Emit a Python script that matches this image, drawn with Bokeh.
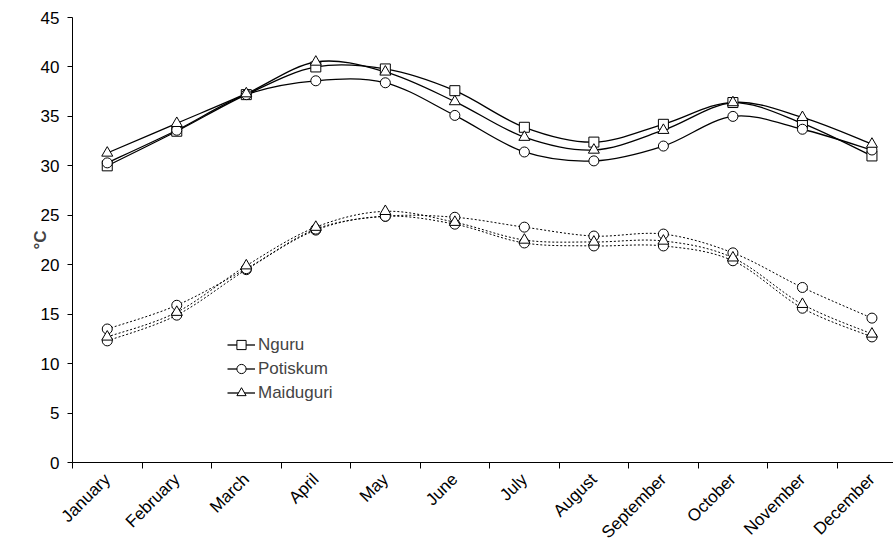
import math
from bokeh.plotting import figure
from bokeh.models import (Range1d, FixedTicker, SingleIntervalTicker, Legend, LegendItem,
                          ColumnDataSource)
from bokeh.embed import file_html
from bokeh.resources import INLINE

months = ["January", "February", "March", "April", "May", "June", "July",
          "August", "September", "October", "November", "December"]

nguru_max = [30.0, 33.5, 37.2, 40.0, 39.8, 37.6, 33.9, 32.4, 34.2, 36.4, 34.3, 31.0]
potiskum_max = [30.3, 33.6, 37.2, 38.6, 38.4, 35.1, 31.4, 30.5, 32.0, 35.0, 33.7, 31.6]
maiduguri_max = [31.3, 34.3, 37.3, 40.5, 39.5, 36.5, 32.9, 31.6, 33.6, 36.4, 34.9, 32.2]

nguru_min = [12.3, 14.9, 19.5, 23.5, 24.9, 24.1, 22.2, 21.9, 21.9, 20.4, 15.6, 12.7]
potiskum_min = [13.5, 15.9, 19.6, 23.6, 24.9, 24.8, 23.8, 22.9, 23.1, 21.2, 17.7, 14.6]
maiduguri_min = [12.7, 15.2, 19.9, 23.8, 25.4, 24.3, 22.5, 22.3, 22.4, 20.7, 16.0, 13.0]

FONT = "Liberation Sans"
FS = "17px"
xs = list(range(1, len(months) + 1))

W, H = 893, 556
p = figure(width=W, height=H, output_backend="svg", toolbar_location=None,
           x_range=Range1d(0.5, 12.31), y_range=Range1d(0, 45),
           min_border_left=72, min_border_top=17, min_border_bottom=94, min_border_right=0)
p.outline_line_color = None
p.xgrid.grid_line_color = None
p.ygrid.grid_line_color = None
p.background_fill_color = "white"


def smooth_source(x, y):
    n = len(x)
    d = dict(x0=[], y0=[], x1=[], y1=[], cx0=[], cy0=[], cx1=[], cy1=[])
    for i in range(n - 1):
        pm = i - 1 if i > 0 else i
        pn = i + 2 if i + 2 < n else i + 1
        d["x0"].append(x[i]); d["y0"].append(y[i])
        d["x1"].append(x[i + 1]); d["y1"].append(y[i + 1])
        d["cx0"].append(x[i] + (x[i + 1] - x[pm]) / 6.0)
        d["cy0"].append(y[i] + (y[i + 1] - y[pm]) / 6.0)
        d["cx1"].append(x[i + 1] - (x[pn] - x[i]) / 6.0)
        d["cy1"].append(y[i + 1] - (y[pn] - y[i]) / 6.0)
    return ColumnDataSource(d)


def curve(y, dash):
    return p.bezier(x0="x0", y0="y0", x1="x1", y1="y1", cx0="cx0", cy0="cy0",
                    cx1="cx1", cy1="cy1", source=smooth_source(xs, y),
                    line_color="black", line_width=1.0 if dash else 1.3,
                    line_dash=dash if dash else "solid")


def marks(y, marker, size):
    return p.scatter(xs, y, marker=marker, size=size, fill_color="white",
                     line_color="black", line_width=1)


# minimum temperatures (dotted)
curve(nguru_min, "2 2")
curve(potiskum_min, "2 2")
curve(maiduguri_min, "2 2")
marks(nguru_min, "circle", 10)
marks(potiskum_min, "circle", 10)
marks(maiduguri_min, "triangle", 11)

# maximum temperatures (solid)
cn = curve(nguru_max, None)
cp = curve(potiskum_max, None)
cm = curve(maiduguri_max, None)
mn = marks(nguru_max, "square", 10)
mp = marks(potiskum_max, "circle", 10)
mm = marks(maiduguri_max, "triangle", 11)

legend = Legend(items=[LegendItem(label="Nguru", renderers=[cn, mn]),
                       LegendItem(label="Potiskum", renderers=[cp, mp]),
                       LegendItem(label="Maiduguri", renderers=[cm, mm])],
                location=(155, 58), border_line_color=None, background_fill_alpha=0,
                padding=0, margin=0, spacing=1, glyph_width=28, glyph_height=23,
                label_height=23, label_standoff=3,
                label_text_font=FONT, label_text_font_size=FS)
p.add_layout(legend, "center")

# axes
p.yaxis.ticker = SingleIntervalTicker(interval=5, num_minor_ticks=0)
p.yaxis.major_tick_out = 5
p.yaxis.major_tick_in = 0
p.yaxis.minor_tick_line_color = None
p.yaxis.major_label_standoff = 8
p.yaxis.axis_label = "°C"
p.yaxis.axis_label_text_font = FONT
p.yaxis.axis_label_text_font_style = "bold"
p.yaxis.axis_label_text_font_size = FS
p.yaxis.axis_label_standoff = -12

p.xaxis.ticker = FixedTicker(ticks=xs, minor_ticks=[v - 0.5 for v in xs])
p.xaxis.major_label_overrides = {v: m for v, m in zip(xs, months)}
p.xaxis.major_tick_line_color = None
p.xaxis.minor_tick_line_color = "black"
p.xaxis.minor_tick_out = 6
p.xaxis.minor_tick_in = 0
p.xaxis.major_label_orientation = math.pi / 4
p.xaxis.major_label_standoff = 8

for ax in (p.xaxis, p.yaxis):
    ax.axis_line_color = "black"
    ax.major_label_text_font = FONT
    ax.major_label_text_font_size = FS
    ax.major_label_text_color = "black"

open("out.html", "w").write(file_html(p, INLINE))
